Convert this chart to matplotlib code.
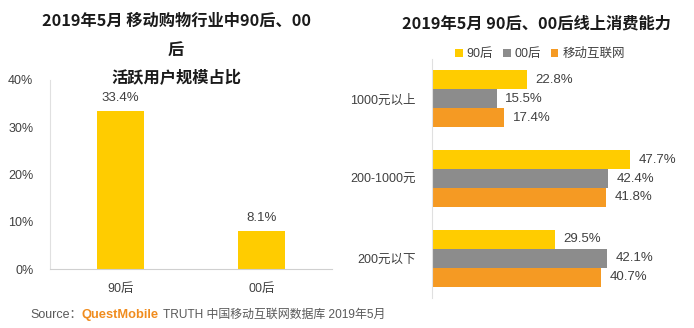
import matplotlib.pyplot as plt

plt.rcParams['font.family'] = ['Liberation Sans', 'Noto Sans CJK SC', 'DejaVu Sans']

# 左图数据
age_groups = ["90后", "00后"]
active_share = [33.4, 8.1]

# 右图数据
spend_levels = ["1000元以上", "200-1000元", "200元以下"]
series_names = ["90后", "00后", "移动互联网"]
share_90 = [22.8, 47.7, 29.5]
share_00 = [15.5, 42.4, 42.1]
share_all = [17.4, 41.8, 40.7]

yellow = "#FFCC00"
gray = "#8C8C8C"
orange = "#F59A23"
text_dark = "#404040"
title_font = ['Noto Sans CJK SC', 'DejaVu Sans']

W, H = 694, 328
fig = plt.figure(figsize=(W / 100, H / 100), dpi=100)

# 左图
ax1 = fig.add_axes([50 / W, (H - 269) / H, 282 / W, (269 - 80) / H])
ax1.patch.set_alpha(0)
x = range(len(age_groups))
bars = ax1.bar(x, active_share, width=0.33, color=yellow)
ax1.set_xlim(-0.5, 1.5)
ax1.set_ylim(0, 40)
ax1.set_yticks([0, 10, 20, 30, 40])
ax1.set_yticklabels(["0%", "10%", "20%", "30%", "40%"])
ax1.set_xticks(list(x))
ax1.set_xticklabels(age_groups)
ax1.tick_params(length=0, labelsize=9, colors=text_dark, pad=10)
ax1.tick_params(axis="y", pad=12)
for s in ["top", "right"]:
    ax1.spines[s].set_visible(False)
ax1.spines["left"].set_color("#e0e0e0")
ax1.spines["bottom"].set_color("#d0d0d0")
for b, v in zip(bars, active_share):
    ax1.annotate(f"{v}%", (b.get_x() + b.get_width() / 2, v),
                 xytext=(0, 5), textcoords="offset points",
                 ha="center", va="bottom", fontsize=9.5, color=text_dark)

title_kw = dict(ha="center", va="center", fontsize=11.7, fontweight="bold",
                color="#1a1a1a", family=title_font)
fig.text(176 / W, 1 - 21 / H, "2019年5月 移动购物行业中90后、00", **title_kw)
fig.text(176 / W, 1 - 50 / H, "后", **title_kw)
fig.text(176 / W, 1 - 78 / H, "活跃用户规模占比", **title_kw)

# 右图
ax2 = fig.add_axes([432 / W, 30 / H, (690 - 432) / W, (298 - 59) / H])
ax2.patch.set_alpha(0)
h = 0.2375
ypos = range(len(spend_levels))
series = [share_90, share_00, share_all]
colors = [yellow, gray, orange]
for i, (vals, c, name) in enumerate(zip(series, colors, series_names)):
    ys = [y + (i - 1) * h for y in ypos]
    ax2.barh(ys, vals, height=h, color=c, label=name)
    for yy, v in zip(ys, vals):
        ax2.annotate(f"{v}%", (v, yy), xytext=(6, 0), textcoords="offset points",
                     ha="left", va="center", fontsize=9.5, color=text_dark)
ax2.set_ylim(2.5, -0.5)
ax2.set_xlim(0, 62)
ax2.set_yticks(list(ypos))
ax2.set_yticklabels(spend_levels)
ax2.set_xticks([])
ax2.tick_params(length=0, labelsize=9, colors=text_dark, pad=12)
for s in ["top", "right", "bottom"]:
    ax2.spines[s].set_visible(False)
ax2.spines["left"].set_color("#e0e0e0")

fig.text(536 / W, 1 - 23 / H, "2019年5月 90后、00后线上消费能力", **title_kw)
fig.legend(loc="center", bbox_to_anchor=(540 / W, 1 - 54 / H), ncol=3,
           frameon=False, fontsize=9, handlelength=0.6, handleheight=0.6,
           handletextpad=0.3, columnspacing=0.8, labelcolor=text_dark)

# 来源
fig.text(30 / W, 1 - 315 / H, "Source：", ha="left", va="center",
         fontsize=9, color="#595959")
fig.text(82 / W, 1 - 315 / H, "QuestMobile", ha="left", va="center",
         fontsize=9.3, color="#F08C1E", fontweight="bold")
fig.text(163 / W, 1 - 315 / H, "TRUTH 中国移动互联网数据库 2019年5月", ha="left",
         va="center", fontsize=8.6, color="#595959")

fig.savefig("out.png", dpi=100)
